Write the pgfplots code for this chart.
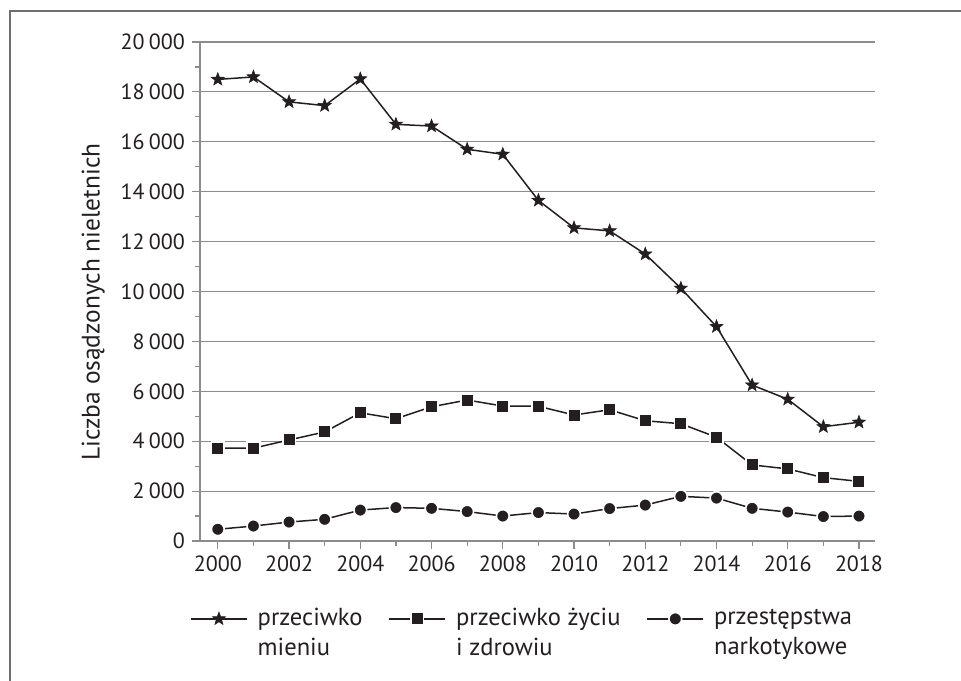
\documentclass[border=0pt]{standalone}
\usepackage{fontspec}
\setmainfont{PT Sans}
\usepackage{pgfplots}
\pgfplotsset{compat=1.18}
\definecolor{gridgray}{HTML}{8C8C8C}
\definecolor{framegray}{HTML}{6E6E6E}
\definecolor{ink}{HTML}{231F20}

\pgfdeclareplotmark{fstar}{%
  \pgfpathmoveto{\pgfpointpolar{90}{\pgfplotmarksize}}%
  \pgfpathlineto{\pgfpointpolar{126}{0.42\pgfplotmarksize}}%
  \pgfpathlineto{\pgfpointpolar{162}{\pgfplotmarksize}}%
  \pgfpathlineto{\pgfpointpolar{198}{0.42\pgfplotmarksize}}%
  \pgfpathlineto{\pgfpointpolar{234}{\pgfplotmarksize}}%
  \pgfpathlineto{\pgfpointpolar{270}{0.42\pgfplotmarksize}}%
  \pgfpathlineto{\pgfpointpolar{306}{\pgfplotmarksize}}%
  \pgfpathlineto{\pgfpointpolar{342}{0.42\pgfplotmarksize}}%
  \pgfpathlineto{\pgfpointpolar{18}{\pgfplotmarksize}}%
  \pgfpathlineto{\pgfpointpolar{54}{0.42\pgfplotmarksize}}%
  \pgfpathclose
  \pgfusepathqfillstroke
}

\pgfplotstableread{
year mienie zycie narko
2000 18500 3720 470
2001 18600 3720 600
2002 17600 4050 760
2003 17450 4370 870
2004 18520 5140 1240
2005 16700 4900 1340
2006 16630 5380 1310
2007 15700 5650 1180
2008 15500 5410 1000
2009 13650 5400 1140
2010 12550 5050 1080
2011 12430 5260 1300
2012 11500 4820 1440
2013 10130 4700 1790
2014 8590 4160 1720
2015 6250 3050 1310
2016 5680 2890 1160
2017 4580 2540 980
2018 4760 2390 1000
}\datatable

\begin{document}
\begin{tikzpicture}[x=0.5pt,y=0.5pt]
\useasboundingbox (0,0) rectangle (961,680);
\draw[framegray, line width=1pt] (10,-5) -- (10,669) -- (966,669);
\begin{axis}[
  at={(100pt,69.5pt)}, anchor=south west,
  scale only axis, width=337.5pt, height=249.5pt,
  xmin=1999.5, xmax=2018.45, ymin=0, ymax=20000,
  scaled y ticks=false,
  axis x line*=bottom, axis y line*=left,
  axis line style={gridgray, line width=0.6pt, -},
  xtick={2000,2002,...,2018},
  minor xtick={2001,2003,...,2017},
  ytick={0,2000,...,20000},
  minor ytick={1000,3000,...,19000},
  tick align=outside,
  major tick length=4pt, minor tick length=2.5pt,
  every tick/.style={gridgray, line width=0.6pt},
  ymajorgrids,
  major grid style={gridgray, line width=0.6pt},
  /pgf/number format/assume math mode=true,
  xticklabel style={/pgf/number format/1000 sep={}},
  yticklabel style={/pgf/number format/1000 sep={\hspace{0.2em}}},
  tick label style={font=\fontsize{11}{13}\selectfont, text=ink},
  ylabel={Liczba osądzonych nieletnich},
  ylabel style={at={(axis description cs:-0.158,0.479)}, anchor=center, font=\fontsize{12.7}{14}\selectfont, text=ink},
  legend columns=3,
  legend cell align=left,
  legend style={draw=none, fill=none, at={(axis description cs:-0.024,-0.118)}, anchor=north west,
    font=\fontsize{12.3}{15}\selectfont, text=ink, cells={align=left},
    /tikz/every odd column/.append style={column sep=3pt},
    /tikz/every even column/.append style={column sep=11pt}},
  legend image code/.code={\draw[mark repeat=2,mark phase=2,#1] plot coordinates {(0pt,7.3pt) (14pt,7.3pt) (28pt,7.3pt)};},
]
\addplot[ink, line width=0.75pt, mark=fstar, mark size=3.4pt, mark options={fill=ink, draw=ink, line width=0.3pt}] table[x=year,y=mienie] {\datatable};
\addlegendentry{przeciwko\\mieniu}
\addplot[ink, line width=0.75pt, mark=square*, mark size=3.15pt, mark options={fill=ink, draw=white, line width=0.8pt}] table[x=year,y=zycie] {\datatable};
\addlegendentry{przeciwko życiu\\i zdrowiu}
\addplot[ink, line width=0.75pt, mark=*, mark size=3.2pt, mark options={fill=ink, draw=white, line width=0.8pt}] table[x=year,y=narko] {\datatable};
\addlegendentry{przestępstwa\\narkotykowe}
\end{axis}
\end{tikzpicture}
\end{document}
